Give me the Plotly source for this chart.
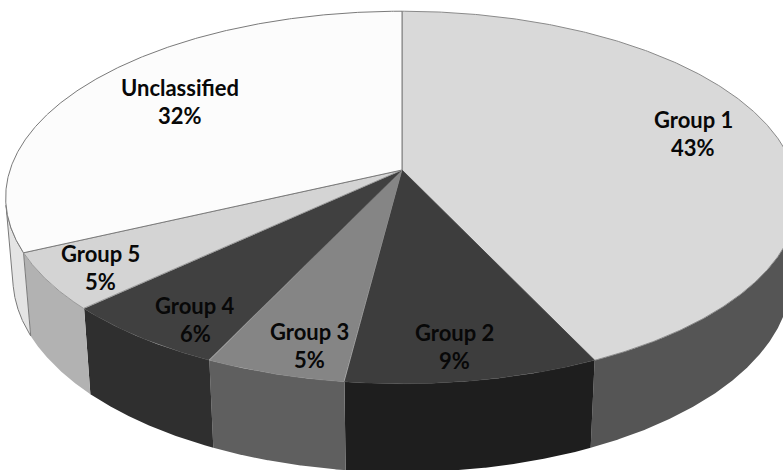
import numpy as np
import plotly.graph_objects as go

# ---- data -------------------------------------------------------------
categories = ["Group 1", "Group 2", "Group 3", "Group 4", "Group 5", "Unclassified"]
shares = [43, 9, 5, 6, 5, 32]
pct_labels = ["43%", "9%", "5%", "6%", "5%", "32%"]

# ---- styling ----------------------------------------------------------
top_colors = ["#d9d9d9", "#3d3d3d", "#858585", "#404040", "#d4d4d4", "#fcfcfc"]
side_colors = ["#555555", "#1e1e1e", "#5f5f5f", "#2f2f2f", "#b2b2b2", "#e4e4e4"]
edge_colors = ["#8a8a8a", None, None, None, "#9a9a9a", "#7a7a7a"]
label_radius = [0.78, 0.85, 0.85, 0.85, 0.85, 0.70]
label_shift = [(0, 6), (-7, -2), (13, -6), (11, -10), (-5, -4), (-2, 4)]

W, H = 783, 470
CX, CY = 402.0, 170.0      # screen position of the pie centre
SCALE = 392.0              # screen radius at the centre depth
ELEV = np.deg2rad(27.7)    # camera elevation
DIST = 6.0                 # camera distance (in pie radii)
THICK = 0.233              # pie thickness (in pie radii)
COS_E, SIN_E = np.cos(ELEV), np.sin(ELEV)


def project(theta_deg, r=1.0, z=0.0):
    """Perspective projection of a point on the pie (theta clockwise from back)."""
    t = np.deg2rad(np.asarray(theta_deg, dtype=float))
    X = r * np.sin(t)
    Y = r * np.cos(t)
    depth = Y * COS_E - z * SIN_E + DIST
    up = Y * SIN_E + z * COS_E
    sx = CX + SCALE * DIST * X / depth
    sy = CY - SCALE * DIST * up / depth
    return sx, sy


total = float(sum(shares))
bounds = np.concatenate([[0.0], np.cumsum(shares) / total * 360.0])

# visible part of the outer wall: outward normal faces the camera
y_lim = -1.0 / (DIST * COS_E)
vis_lo = np.rad2deg(np.arccos(y_lim))
vis_hi = 360.0 - vis_lo

fig = go.Figure()

# outer walls
for i, name in enumerate(categories):
    a, b = max(bounds[i], vis_lo), min(bounds[i + 1], vis_hi)
    if b <= a:
        continue
    th = np.linspace(a, b, 200)
    xt, yt = project(th, 1.0, 0.0)
    xb, yb = project(th[::-1], 1.0, -THICK)
    xs = np.concatenate([xt, xb, xt[:1]])
    ys = np.concatenate([yt, yb, yt[:1]])
    line = dict(width=0)
    if name == "Unclassified":
        line = dict(width=1, color="#7a7a7a")
    fig.add_trace(go.Scatter(
        x=xs, y=ys, mode="lines", fill="toself",
        fillcolor=side_colors[i], line=line,
        hoverinfo="skip", showlegend=False))

# top faces
for i, name in enumerate(categories):
    th = np.linspace(bounds[i], bounds[i + 1], 400)
    xa, ya = project(th, 1.0, 0.0)
    xs = np.concatenate([[CX], xa, [CX]])
    ys = np.concatenate([[CY], ya, [CY]])
    if edge_colors[i]:
        line = dict(width=1, color=edge_colors[i])
    else:
        line = dict(width=0.5, color=top_colors[i])
    fig.add_trace(go.Scatter(
        x=xs, y=ys, mode="lines", fill="toself",
        fillcolor=top_colors[i], line=line,
        hoverinfo="text", text=f"{name}: {pct_labels[i]}",
        showlegend=False))

# data labels
font = dict(family="Lato", size=22, color="#080808", weight="bold")
for i, name in enumerate(categories):
    mid = (bounds[i] + bounds[i + 1]) / 2.0
    lx, ly = project(mid, label_radius[i], 0.0)
    dx, dy = label_shift[i]
    for text, off in ((name, 14), (pct_labels[i], -14)):
        fig.add_annotation(
            x=float(lx), y=float(ly), text=text, showarrow=False,
            xshift=dx, yshift=dy + off, font=font,
            xanchor="center", yanchor="middle")

fig.update_layout(
    width=W, height=H, autosize=False,
    margin=dict(l=0, r=0, t=0, b=0),
    paper_bgcolor="white", plot_bgcolor="white",
    xaxis=dict(range=[0, W], visible=False, fixedrange=True),
    yaxis=dict(range=[H, 0], visible=False, fixedrange=True),
    showlegend=False,
)

fig.write_html("out.html")
